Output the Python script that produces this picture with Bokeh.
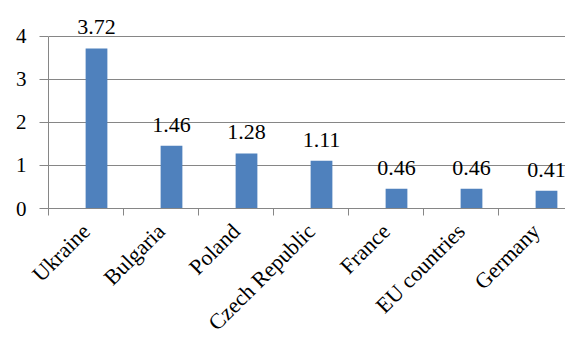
import math
from bokeh.plotting import figure
from bokeh.models import Range1d, FixedTicker, ColumnDataSource, LabelSet
from bokeh.core.properties import value
from bokeh.embed import file_html
from bokeh.resources import INLINE

categories = ["Ukraine", "Bulgaria", "Poland", "Czech Republic", "France", "EU countries", "Germany"]
values = [3.72, 1.46, 1.28, 1.11, 0.46, 0.46, 0.41]
value_labels = ["3.72", "1.46", "1.28", "1.11", "0.46", "0.46", "0.41"]
y_ticks = [0, 1, 2, 3, 4]

FONT = "Liberation Serif"
n = len(categories)
centers = [i + 0.5 for i in range(n)]
bar_x = [i + 0.64 for i in range(n)]

src = ColumnDataSource(dict(x=bar_x, top=values, lab=value_labels))

p = figure(width=565, height=347, output_backend="svg", toolbar_location=None,
           x_range=Range1d(0, 517 / 75), y_range=Range1d(0, 209 / 43.25),
           min_border_left=48, min_border_right=0, min_border_top=0, min_border_bottom=138)
p.outline_line_color = None
p.background_fill_color = "white"

p.vbar(x="x", top="top", width=0.29, bottom=0, source=src, color="#4F81BD", line_color=None)

labels = LabelSet(x="x", y="top", text="lab", source=src, text_align="center",
                  text_baseline="bottom", y_offset=14, text_font=value("'Liberation Serif', serif"),
                  text_font_size="22px", text_color="black")
p.add_layout(labels)

# y axis
p.yaxis.ticker = FixedTicker(ticks=y_ticks, minor_ticks=[])
p.yaxis.bounds = (0, 4)
p.yaxis.axis_line_color = "#868686"
p.yaxis.major_tick_line_color = "#868686"
p.yaxis.major_tick_out = 9
p.yaxis.major_tick_in = 0
p.yaxis.minor_tick_line_color = None
p.yaxis.major_label_standoff = 13
p.yaxis.major_label_text_font = "'Liberation Serif', serif"
p.yaxis.major_label_text_font_size = "21px"
p.yaxis.major_label_text_color = "black"

# x axis
p.xaxis.ticker = FixedTicker(ticks=centers, minor_ticks=list(range(n + 1)))
p.xaxis.major_label_overrides = {c: cat for c, cat in zip(centers, categories)}
p.xaxis.axis_line_color = "#868686"
p.xaxis.major_tick_line_color = None
p.xaxis.minor_tick_line_color = "#868686"
p.xaxis.minor_tick_out = 7
p.xaxis.minor_tick_in = 0
p.xaxis.major_label_orientation = math.pi / 4
p.xaxis.major_label_standoff = 12
p.xaxis.major_label_text_font = "'Liberation Serif', serif"
p.xaxis.major_label_text_font_size = "22px"
p.xaxis.major_label_text_color = "black"

p.xgrid.grid_line_color = None
p.ygrid.ticker = FixedTicker(ticks=y_ticks)
p.ygrid.grid_line_color = "#868686"
p.ygrid.grid_line_width = 1
p.ygrid.bounds = (0, 4)

open("out.html", "w").write(file_html(p, INLINE))
